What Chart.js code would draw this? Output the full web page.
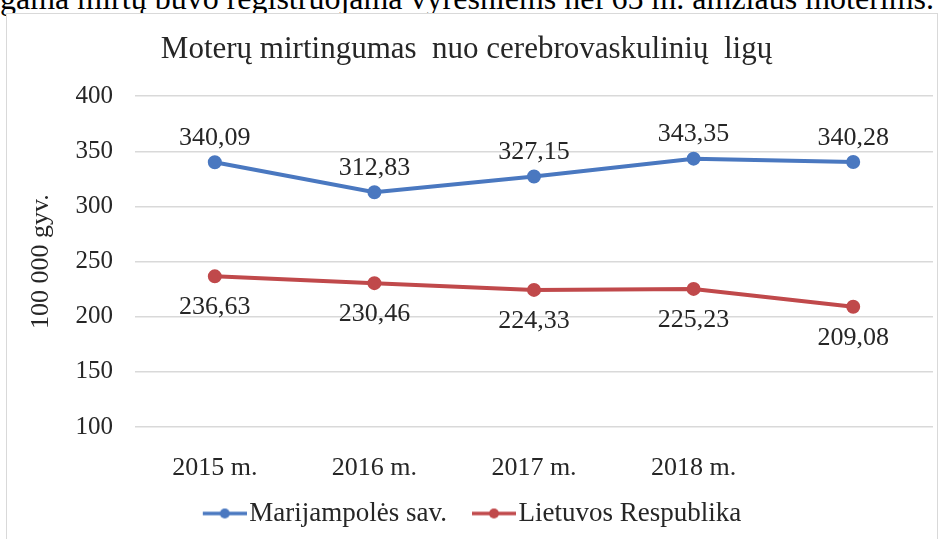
<!DOCTYPE html>
<html lang="lt">
<head>
<meta charset="utf-8">
<script src="https://cdn.jsdelivr.net/npm/chart.js@4"></script>
<style>
  html, body { margin: 0; padding: 0; background: #fff; }
  body { width: 944px; height: 539px; position: relative; overflow: hidden; }
  #topline {
    position: absolute; left: 0; top: -18px; width: 960px;
    font: 32px/32px "Liberation Serif", "Times New Roman", serif; color: #000;
    white-space: nowrap; text-align: left;
  }
  #frame {
    position: absolute; left: 6px; top: 13px; width: 932px; height: 540px;
    border: 1px solid #d9d9d9; box-sizing: border-box; background: #fff;
  }
  #wrap { position: absolute; left: 0; top: 0; width: 944px; height: 539px; }
</style>
</head>
<body>
<div id="topline">gama mirtų buvo registruojama vyresniems nei 65 m. amžiaus moterims.</div>
<div id="frame"></div>
<div id="wrap"><canvas id="chart" width="944" height="539"></canvas></div>
<script>
// duomenys
const years = ["2015 m.", "2016 m.", "2017 m.", "2018 m.", ""];
const marijampole = [340.09, 312.83, 327.15, 343.35, 340.28];
const lietuva = [236.63, 230.46, 224.33, 225.23, 209.08];
const yTicks = [100, 150, 200, 250, 300, 350, 400];

const BLUE = "#4a78c0";
const RED = "#c0494b";
const FONT = "'Liberation Serif', 'Times New Roman', serif";
const TXT = "#262626";

// legendos ženklas: linija su tašku (paslinktas dešinėn, kad tekstas būtų arčiau)
function legendIcon(color) {
  const c = document.createElement("canvas");
  c.width = 66; c.height = 14;
  const g = c.getContext("2d");
  g.strokeStyle = color; g.lineWidth = 3.5;
  g.beginPath(); g.moveTo(22, 7); g.lineTo(66, 7); g.stroke();
  g.fillStyle = color;
  g.beginPath(); g.arc(44, 7, 5, 0, Math.PI * 2); g.fill();
  return c;
}

// reikšmių etiketės
const valueLabels = {
  id: "valueLabels",
  afterDatasetsDraw(chart) {
    const ctx = chart.ctx;
    ctx.save();
    ctx.font = "26px " + FONT;
    ctx.fillStyle = TXT;
    ctx.textAlign = "center";
    ctx.textBaseline = "middle";
    chart.data.datasets.forEach((ds, i) => {
      const meta = chart.getDatasetMeta(i);
      meta.data.forEach((pt, j) => {
        const txt = ds.data[j].toFixed(2).replace(".", ",");
        const dy = i === 0 ? -24 : 31;
        ctx.fillText(txt, pt.x, pt.y + dy);
      });
    });
    ctx.restore();
  }
};

new Chart(document.getElementById("chart"), {
  type: "line",
  data: {
    labels: years,
    datasets: [
      {
        label: "Marijampolės sav.",
        data: marijampole,
        borderColor: BLUE,
        backgroundColor: BLUE,
        borderWidth: 4,
        pointRadius: 5,
        pointHoverRadius: 5,
        pointStyle: "circle",
        tension: 0
      },
      {
        label: "Lietuvos Respublika",
        data: lietuva,
        borderColor: RED,
        backgroundColor: RED,
        borderWidth: 4,
        pointRadius: 5,
        pointHoverRadius: 5,
        pointStyle: "circle",
        tension: 0
      }
    ]
  },
  options: {
    responsive: false,
    animation: false,
    devicePixelRatio: 1,
    layout: { padding: { left: 0, right: 11, top: 31, bottom: 2 } },
    scales: {
      x: {
        type: "category",
        offset: true,
        grid: { display: false },
        border: { display: false },
        afterFit: (s) => { s.height = 59; },
        ticks: { font: { family: FONT, size: 26 }, color: TXT, padding: 18, maxRotation: 0 }
      },
      y: {
        min: 100,
        max: 400,
        afterBuildTicks: (s) => { s.ticks = yTicks.map(v => ({ value: v })); },
        afterFit: (s) => { s.width = 135; },
        grid: { color: "#d9d9d9", lineWidth: 1.5, drawTicks: false },
        border: { display: false },
        ticks: { font: { family: FONT, size: 25 }, color: TXT, padding: 22 },
        title: {
          display: true,
          text: "100 000 gyv.",
          font: { family: FONT, size: 26 },
          color: TXT,
          padding: { top: 26, bottom: 0 }
        }
      }
    },
    plugins: {
      title: {
        display: true,
        text: "Moterų mirtingumas  nuo cerebrovaskulinių  ligų",
        font: { family: FONT, size: 31, weight: "normal" },
        color: TXT,
        padding: { top: 0, bottom: 28 }
      },
      legend: {
        display: true,
        position: "bottom",
        labels: {
          usePointStyle: true,
          pointStyleWidth: 44,
          font: { family: FONT, size: 27 },
          color: TXT,
          padding: 14,
          boxHeight: 14,
          generateLabels: (chart) => chart.data.datasets.map((ds, i) => ({
            text: ds.label,
            pointStyle: legendIcon(ds.borderColor),
            fillStyle: ds.borderColor,
            strokeStyle: ds.borderColor,
            lineWidth: 0,
            fontColor: TXT,
            datasetIndex: i,
            hidden: false
          }))
        },
        onClick: null
      },
      tooltip: { enabled: false }
    }
  },
  plugins: [valueLabels]
});
</script>
</body>
</html>
